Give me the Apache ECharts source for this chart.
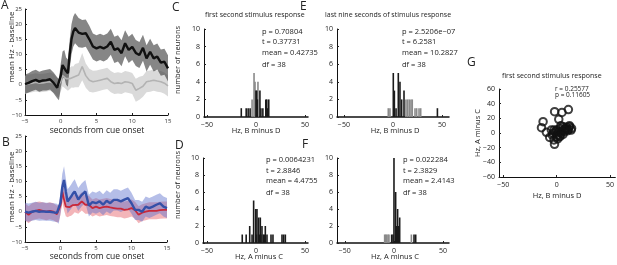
<!DOCTYPE html>
<html>
<head>
<meta charset="utf-8">
<script src="https://cdn.jsdelivr.net/npm/echarts@6/dist/echarts.min.js"></script>
<style>
  html, body { margin: 0; padding: 0; background: #fff; }
  #main { width: 617px; height: 265px; }
</style>
</head>
<body>
<div id="main"></div>
<script>
// time axis (seconds from cue onset)
const tSec = [-5, -4.5, -4, -3.5, -3, -2.5, -2, -1.5, -1, -0.5, -0.25, 0, 0.25, 0.5, 0.75, 1, 1.25, 1.5, 1.75, 2,
  2.5, 3, 3.5, 4, 4.5, 5, 5.5, 6, 6.5, 7, 7.5, 8, 8.5, 9, 9.5, 10, 10.5, 11, 11.5, 12, 12.5, 13, 13.5, 14, 14.5, 15];

// panel A
const blackMean = [0.2, 0.6, 1.2, 1.6, 1.0, 1.4, 1.5, 1.8, 0.6, -1.0, -1.6, 3.0, 6.5, 7.0, 4.5, 3.8, 10.0, 15.0, 17.5, 18.7,
  17.2, 16.8, 17.0, 15.0, 12.6, 12.0, 12.5, 12.0, 12.6, 14.2, 11.5, 12.0, 10.4, 13.7, 11.5, 12.5, 10.5, 9.8, 12.2, 8.7, 10.9, 8.7, 9.3, 7.3, 7.6, 5.4];
const blackErr = [3.2, 3.2, 3.3, 3.3, 3.3, 3.3, 3.4, 3.4, 3.4, 3.5, 3.5, 4.0, 4.5, 4.5, 4.5, 4.5, 4.8, 5.0, 5.0, 5.0,
  4.8, 4.6, 4.5, 4.5, 4.3, 4.3, 4.3, 4.3, 4.3, 4.3, 4.3, 4.3, 4.3, 4.3, 4.3, 4.3, 4.3, 4.3, 4.3, 4.3, 4.3, 4.3, 4.3, 4.3, 4.3, 4.3];
const grayMean = [0.0, 0.3, 0.5, 0.8, 0.5, 0.6, 0.8, 1.0, 0.5, -0.8, -1.2, 1.0, 3.0, 2.5, 2.0, 1.5, 2.0, 2.6, 2.5, 3.0,
  3.2, 6.0, 3.0, 1.5, 1.0, 1.2, 1.5, 1.8, 2.1, 1.0, 0.4, 0.6, 0.4, 1.0, 0.8, 0.4, -1.8, -1.2, -0.5, 1.0, 1.2, 1.5, 1.2, 1.0, 0.5, -0.4];
const grayErr = [3.0, 3.0, 3.0, 3.0, 3.0, 3.0, 3.0, 3.0, 3.0, 3.0, 3.0, 3.2, 3.5, 3.5, 3.5, 3.5, 3.5, 3.5, 3.5, 3.8,
  4.0, 4.5, 4.0, 3.8, 3.6, 3.5, 3.5, 3.5, 3.5, 3.5, 3.5, 3.5, 3.5, 3.5, 3.5, 3.5, 3.8, 3.8, 3.5, 3.5, 3.5, 3.5, 3.5, 3.5, 3.5, 3.5];

// panel B
const blueMean = [0.0, -0.3, 0.0, 0.3, 0.0, 0.1, 0.0, 0.0, -0.2, -0.4, -1.0, 3.0, 8.0, 10.5, 6.7, 3.4, 4.2, 5.0, 6.0, 6.7,
  4.0, 5.6, 6.7, 2.0, 3.2, 2.8, 3.4, 2.3, 3.6, 2.8, 3.9, 3.9, 3.4, 4.0, 4.5, 2.8, 0.6, 0.6, 0.0, 1.7, 1.2, 1.7, 2.3, 2.8, 1.7, 1.2];
const blueErr = [3.0, 3.0, 3.0, 3.0, 3.0, 3.0, 3.0, 3.0, 3.0, 3.0, 3.0, 3.5, 4.5, 4.5, 4.2, 4.0, 4.0, 4.0, 4.0, 4.0,
  3.8, 3.8, 3.8, 3.6, 3.5, 3.5, 3.5, 3.5, 3.5, 3.5, 3.5, 3.5, 3.5, 3.5, 3.5, 3.5, 3.3, 3.3, 3.3, 3.3, 3.3, 3.3, 3.3, 3.3, 3.3, 3.3];
const redMean = [0.0, -1.0, 0.0, 0.3, 0.6, 0.3, 0.0, 0.3, 0.0, -0.8, -0.5, 2.0, 6.7, 4.0, 1.7, 1.2, 1.5, 1.7, 2.2, 2.8,
  2.3, 3.4, 2.3, 2.3, 1.2, 1.7, 1.2, 1.5, 1.7, 1.4, 1.2, 1.0, 1.0, 0.6, 0.8, 1.2, 0.5, -1.0, -0.3, 0.0, 0.3, 0.3, 0.3, 0.5, 0.6, 0.6];
const redErr = [2.8, 2.8, 2.8, 2.8, 2.8, 2.8, 2.8, 2.8, 2.8, 2.8, 2.8, 3.0, 3.5, 3.5, 3.2, 3.0, 3.0, 3.0, 3.0, 3.0,
  3.0, 3.0, 3.0, 3.0, 2.8, 2.8, 2.8, 2.8, 2.8, 2.8, 2.8, 2.8, 2.8, 2.8, 2.8, 2.8, 2.8, 2.8, 2.8, 2.8, 2.8, 2.8, 2.8, 2.8, 2.8, 2.8];

// histograms: [Hz difference, number of neurons]
const histC = [[-15, 1], [-10, 1], [-8, 1], [-6, 1], [0, 3], [0.7, 3], [1.4, 2], [4, 3], [5, 1], [7, 1], [10, 2], [11, 2], [12, 1], [13, 2]];
const histCgray = [[-4, 2], [-2, 5], [-1, 4], [2, 4]];
const histD = [[-14, 1], [-10, 1], [-6.4, 2], [-4, 1], [-2.4, 5], [-0.3, 4], [0.5, 1], [1, 4], [2.7, 3], [3.5, 1], [4.4, 3], [5, 1], [6.1, 2],
  [7.5, 1], [8.5, 1], [9.5, 2], [11.2, 1], [15.3, 1], [17.3, 1], [26.5, 1], [28.2, 1], [29.9, 1]];
const histE = [[0.3, 5], [1.4, 3], [3.1, 1], [5.4, 5], [7.1, 4], [8.8, 2], [11.2, 3], [45.2, 1]];
const histEgray = [[-4.8, 1], [-3.1, 1], [13.2, 2], [14.9, 2], [16.6, 2], [18.3, 2], [19.6, 2], [22.4, 1], [24.1, 1], [26.5, 1], [28.2, 1]];
const histF = [[-2.4, 1], [-1, 1], [0, 10], [1.7, 6], [2.6, 2], [3.7, 4], [4.6, 2], [5.8, 3], [20.4, 1], [22.1, 1]];
const histFgray = [[-9.5, 1], [-8.5, 1], [-7.5, 1], [-6.1, 1], [-5.1, 1], [17.7, 1]];

// panel G: [B minus D, A minus C]
const scatterG = [[-14.2, 7.3], [-12.7, 15.5], [-1.9, 29], [5, 28], [11, 32], [2, 18.6], [-9.6, 1], [-6.5, -6], [-2, -15.5], [-2.5, -9.5],
  [0, 4], [3, 6], [6, 8.6], [9, 5], [12, 8.6], [13.6, 4], [4, -0.5], [1, -2.7], [-3.4, -0.5], [7.4, 1.8], [10.5, 3.2], [14, 6.4],
  [0, -5], [-2.5, 4], [3, -5], [-5, 4], [5, 3], [8, 6], [11, 5], [2, 1], [-1, 2], [6, -2], [9, 8], [12, 10], [1, -8], [4, 10], [-4, -3], [3, -4], [7, 4]];

const statsC = ['p = 0.70804', 't = 0.37731', 'mean = 0.42735', 'df = 38'];
const statsD = ['p = 0.0064231', 't = 2.8846', 'mean = 4.4755', 'df = 38'];
const statsE = ['p = 2.5206e\u221207', 't = 6.2581', 'mean = 10.2827', 'df = 38'];
const statsF = ['p = 0.022284', 't = 2.3829', 'mean = 2.4143', 'df = 38'];
const statsG = ['r = 0.25577', 'p = 0.11605'];

const FONT = '"Open Sans", "Liberation Sans", sans-serif';
const chart = echarts.init(document.getElementById('main'));

const minus = v => String(v).replace('-', '\u2212');

function axis(idx, opts) {
  return Object.assign({
    gridIndex: idx,
    type: 'value',
    axisLine: { show: true, onZero: false, lineStyle: { color: '#111', width: 1 } },
    axisTick: { show: true, inside: true, length: 2, lineStyle: { color: '#222' } },
    axisLabel: { fontSize: 6, color: '#333', margin: 3, fontFamily: FONT, formatter: minus },
    splitLine: { show: false }
  }, opts);
}

function histX(idx, min, max) {
  return axis(idx, {
    min: min, max: max,
    axisLine: { show: true, onZero: false, lineStyle: { color: '#111', width: 1.5 } },
    axisTick: { show: true, inside: true, length: 2, customValues: [-50, 0, 50], lineStyle: { color: '#222' } },
    axisLabel: { fontSize: 7, color: '#222', margin: 4, fontFamily: FONT, formatter: minus, customValues: [-50, 0, 50] }
  });
}
function histY(idx) {
  return axis(idx, { min: 0, max: 10, interval: 2,
    axisLabel: { fontSize: 7, color: '#222', margin: 4, fontFamily: FONT } });
}

function band(ax, mean, err, color) {
  return {
    type: 'custom', xAxisIndex: ax, yAxisIndex: ax, data: [[0, 0]], silent: true, z: 1,
    renderItem: (params, api) => {
      const upper = tSec.map((t, i) => api.coord([t, mean[i] + err[i]]));
      const lower = tSec.map((t, i) => api.coord([t, mean[i] - err[i]])).reverse();
      return { type: 'polygon', shape: { points: upper.concat(lower) }, style: { fill: color } };
    }
  };
}
function line(ax, mean, color, width) {
  return {
    type: 'line', xAxisIndex: ax, yAxisIndex: ax, data: tSec.map((t, i) => [t, mean[i]]),
    symbol: 'none', lineStyle: { color: color, width: width }, z: 3, silent: true
  };
}
function bars(ax, data, color) {
  return {
    type: 'bar', xAxisIndex: ax, yAxisIndex: ax, data: data, barWidth: 1.6, barGap: '-100%',
    itemStyle: { color: color }, silent: true
  };
}

function label(text, x, y, size, extra) {
  return {
    type: 'text', x: x, y: y,
    style: Object.assign({ text: text, fontSize: size, fontFamily: FONT, fill: '#222', align: 'left', verticalAlign: 'middle' }, extra || {})
  };
}
function vlabel(text, x, y, size) {
  return { type: 'text', x: x, y: y, rotation: Math.PI / 2,
    style: { text: text, fontSize: size, fontFamily: FONT, fill: '#222', align: 'center', verticalAlign: 'middle' } };
}
function statLines(lines, x, ys) {
  return lines.map((s, i) => label(s, x, ys[i], 7.5));
}

const timeX = idx => axis(idx, { min: -5, max: 15, interval: 5 });
const timeY = idx => axis(idx, { min: -10, max: 25, interval: 5 });

const option = {
  animation: false,
  grid: [
    { left: 25, top: 9, width: 143, height: 106 },
    { left: 25, top: 136, width: 142, height: 106 },
    { left: 204, top: 29, width: 104, height: 88 },
    { left: 203, top: 158, width: 105, height: 85 },
    { left: 337, top: 29, width: 112, height: 88 },
    { left: 337, top: 158, width: 112, height: 85 },
    { left: 499, top: 89, width: 118, height: 88 }
  ],
  xAxis: [
    timeX(0), timeX(1),
    histX(2, -53, 53), histX(3, -54, 53), histX(4, -57, 57), histX(5, -58, 56),
    axis(6, { min: -54, max: 55,
      axisTick: { show: true, inside: true, length: 2, customValues: [-50, 0, 50], lineStyle: { color: '#222' } },
      axisLabel: { fontSize: 7, color: '#222', margin: 4, fontFamily: FONT, formatter: minus, customValues: [-50, 0, 50] } })
  ],
  yAxis: [
    timeY(0), timeY(1),
    histY(2), histY(3), histY(4), histY(5),
    axis(6, { min: -60, max: 60, interval: 20, axisLabel: { fontSize: 7, color: '#222', margin: 4, fontFamily: FONT, formatter: minus } })
  ],
  series: [
    band(0, grayMean, grayErr, '#dadada'),
    band(0, blackMean, blackErr, 'rgba(60,60,60,0.62)'),
    line(0, grayMean, '#b3b3b3', 1.6),
    line(0, blackMean, '#111', 2.4),
    band(1, redMean, redErr, 'rgba(228,90,100,0.45)'),
    band(1, blueMean, blueErr, 'rgba(90,110,205,0.45)'),
    line(1, redMean, '#c8283a', 1.8),
    line(1, blueMean, '#3450a8', 2.4),
    bars(2, histCgray, '#8a8a8a'), bars(2, histC, '#1a1a1a'),
    bars(3, histD, '#1a1a1a'),
    bars(4, histEgray, '#8a8a8a'), bars(4, histE, '#1a1a1a'),
    bars(5, histFgray, '#8a8a8a'), bars(5, histF, '#1a1a1a'),
    {
      type: 'scatter', xAxisIndex: 6, yAxisIndex: 6, data: scatterG, symbol: 'circle', symbolSize: 7.5, silent: true,
      itemStyle: { color: 'rgba(0,0,0,0)', borderColor: '#111', borderWidth: 2 }
    }
  ],
  graphic: [
    label('A', 1, 6, 12), label('B', 2, 143, 12), label('C', 172, 8, 12), label('D', 175, 146, 12),
    label('E', 300, 7, 12), label('F', 302, 145, 12), label('G', 467, 63, 12),
    vlabel('mean Hz - baseline', 12, 47, 8), vlabel('mean Hz - baseline', 12, 187, 8),
    label('seconds from cue onset', 97, 131, 8.5, { align: 'center' }),
    label('seconds from cue onset', 97, 257, 8.5, { align: 'center' }),
    label('first second stimulus response', 205, 15, 7),
    label('last nine seconds of stimulus response', 325, 15, 7),
    label('first second stimulus response', 502, 76, 7),
    vlabel('number of neurons', 178, 60, 7.5), vlabel('number of neurons', 178, 185, 7.5),
    label('Hz, B minus D', 256, 131, 7.5, { align: 'center' }),
    label('Hz, A minus C', 259, 257, 7.5, { align: 'center' }),
    label('Hz, B minus D', 395, 131, 7.5, { align: 'center' }),
    label('Hz, A minus C', 395, 257, 7.5, { align: 'center' }),
    label('Hz, B minus D', 557, 196, 7.5, { align: 'center' }),
    vlabel('Hz, A minus C', 478, 133, 7.5),
    ...statLines(statsC, 262, [32, 42, 53, 65]),
    ...statLines(statsD, 266, [160, 171, 181, 193]),
    ...statLines(statsE, 402, [32, 42, 53, 65]),
    ...statLines(statsF, 403, [160, 171, 181, 193]),
    label(statsG[0], 555, 89, 6.5), label(statsG[1], 555, 95, 6.5)
  ]
};

chart.setOption(option);
window.addEventListener('resize', () => chart.resize());
</script>
</body>
</html>
